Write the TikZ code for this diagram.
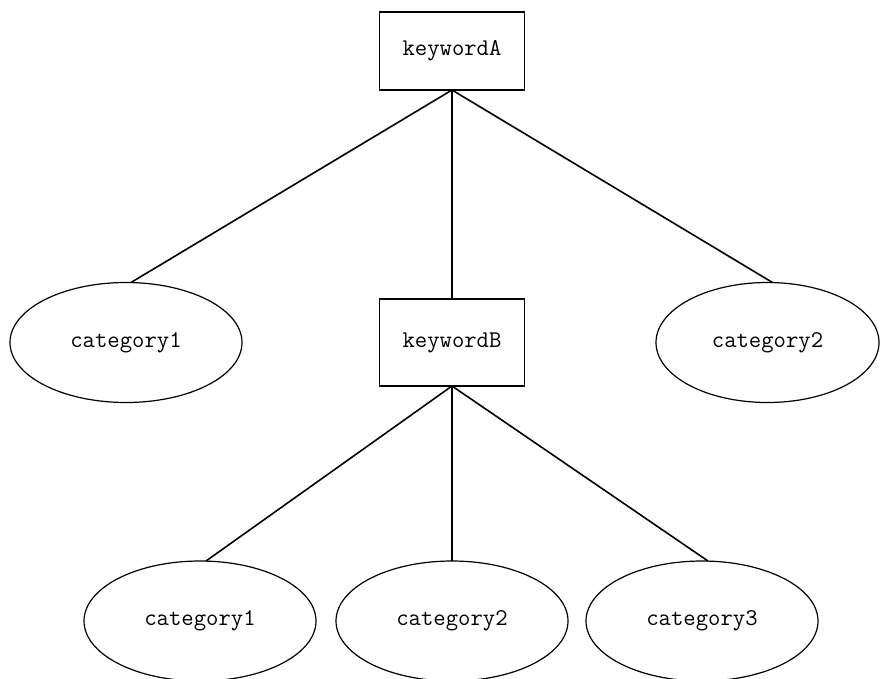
\documentclass[tikz,border=0pt]{standalone}
\usetikzlibrary{shapes.geometric}
\begin{document}
\begin{tikzpicture}[x=1pt,y=-1pt,
  kbox/.style={draw,line width=1.2pt,rectangle,minimum width=145pt,inner sep=0pt,outer sep=0pt,font=\ttfamily\fontsize{24}{28}\selectfont},
  cat/.style={draw,line width=1.2pt,ellipse,minimum width=232pt,minimum height=120pt,inner sep=0pt,outer sep=0pt,font=\ttfamily\fontsize{24}{28}\selectfont},
  conn/.style={line width=1.6pt}]
\useasboundingbox (0,0) rectangle (880,678);
\node[kbox,minimum height=78pt] (kA) at (452,51) {keywordA};
\node[kbox,minimum height=87pt] (kB) at (452,342.5) {keywordB};
\node[cat] (c1) at (126,342.5) {category1};
\node[cat,minimum width=223pt] (c2) at (767.5,342.5) {category2};
\node[cat] (b1) at (200,621) {category1};
\node[cat] (b2) at (452,621) {category2};
\node[cat] (b3) at (702,621) {category3};
\draw[conn] (kA.south) -- ([xshift=5pt]c1.north);
\draw[conn] (kA.south) -- (kB.north);
\draw[conn] (kA.south) -- ([xshift=5pt]c2.north);
\draw[conn] (kB.south) -- ([xshift=6pt]b1.north);
\draw[conn] (kB.south) -- (b2.north);
\draw[conn] (kB.south) -- ([xshift=6pt]b3.north);
\end{tikzpicture}
\end{document}
